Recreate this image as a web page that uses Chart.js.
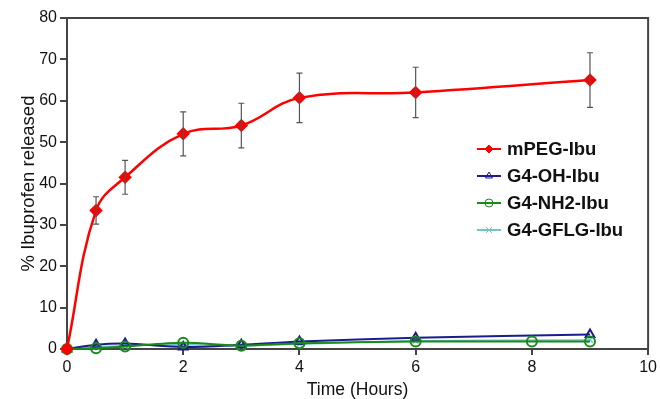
<!DOCTYPE html>
<html>
<head>
<meta charset="utf-8">
<script src="https://cdn.jsdelivr.net/npm/chart.js@4"></script>
<style>
body { margin: 0; background: #fff; }
#wrap { width: 660px; height: 399px; }
</style>
</head>
<body>
<div id="wrap"><canvas id="c" width="660" height="399"></canvas></div>
<script>
// datos
var timeMpeg = [0, 0.5, 1, 2, 3, 4, 6, 9];
var mpeg = [0, 33.5, 41.5, 52, 54, 60.7, 62, 65];
var mpegErr = [0, 3.3, 4.1, 5.3, 5.4, 6, 6.1, 6.6];

var timeOh = [0, 0.5, 1, 2, 3, 4, 6, 9];
var g4oh = [0, 1.0, 1.3, 0.5, 1.0, 1.8, 2.7, 3.5];

var timeNh2 = [0, 0.5, 1, 2, 3, 4, 6, 8, 9];
var g4nh2 = [0, 0.2, 0.6, 1.5, 0.8, 1.4, 1.8, 1.8, 1.8];

var timeGflg = [0, 0.5, 1, 2, 3, 4, 6, 9];
var g4gflg = [0, 0.5, 0.8, 1.0, 0.8, 1.2, 2.0, 2.2];

var xTicks = [0, 2, 4, 6, 8, 10];
var yTicks = [0, 10, 20, 30, 40, 50, 60, 70, 80];

var FONT = '"Liberation Sans", Arial, sans-serif';

function pts(xs, ys) {
    return xs.map(function(x, i) { return { x: x, y: ys[i] }; });
}

// barras de error
var errorBars = {
    id: 'errorBars',
    afterDatasetsDraw: function(chart) {
        var ctx = chart.ctx;
        var xs = chart.scales.x, ys = chart.scales.y;
        ctx.save();
        ctx.strokeStyle = '#555';
        ctx.lineWidth = 1.2;
        timeMpeg.forEach(function(t, i) {
            if (!mpegErr[i]) return;
            var px = xs.getPixelForValue(t);
            var top = ys.getPixelForValue(mpeg[i] + mpegErr[i]);
            var bot = ys.getPixelForValue(mpeg[i] - mpegErr[i]);
            ctx.beginPath();
            ctx.moveTo(px, top); ctx.lineTo(px, bot);
            ctx.moveTo(px - 3, top); ctx.lineTo(px + 3, top);
            ctx.moveTo(px - 3, bot); ctx.lineTo(px + 3, bot);
            ctx.stroke();
        });
        ctx.restore();
    }
};

// marco y leyenda dentro del area
var frameLegend = {
    id: 'frameLegend',
    afterDraw: function(chart) {
        var ctx = chart.ctx, a = chart.chartArea;
        ctx.save();
        ctx.strokeStyle = '#444';
        ctx.lineWidth = 2;
        ctx.beginPath();
        ctx.moveTo(a.left, a.top); ctx.lineTo(a.right, a.top); ctx.lineTo(a.right, a.bottom);
        ctx.stroke();

        var x0 = 477, y0 = 149, gap = 27;
        ctx.font = 'bold 18.5px ' + FONT;
        ctx.textBaseline = 'middle';
        chart.data.datasets.forEach(function(ds, i) {
            var y = y0 + i * gap;
            ctx.strokeStyle = ds.borderColor;
            ctx.lineWidth = 2;
            ctx.beginPath();
            ctx.moveTo(x0, y); ctx.lineTo(x0 + 24, y);
            ctx.stroke();
            ctx.fillStyle = ds.pointBackgroundColor;
            ctx.lineWidth = 1;
            Chart.helpers.drawPoint(ctx, { pointStyle: ds.pointStyle, radius: 4, borderWidth: 1 }, x0 + 12, y);
            ctx.fillStyle = '#111';
            ctx.fillText(ds.label, x0 + 30, y + 1);
        });
        ctx.restore();
    }
};

var ctx = document.getElementById('c').getContext('2d');
new Chart(ctx, {
    type: 'line',
    data: {
        datasets: [{
            label: 'mPEG-Ibu',
            data: pts(timeMpeg, mpeg),
            borderColor: '#ff0000',
            backgroundColor: '#ff0000',
            pointBackgroundColor: '#ff0000',
            pointStyle: 'rectRot',
            pointRadius: 5,
            borderWidth: 2.5,
            tension: 0.4,
            order: 0
        }, {
            label: 'G4-OH-Ibu',
            data: pts(timeOh, g4oh),
            borderColor: '#1c1c8e',
            backgroundColor: 'rgba(0,0,0,0)',
            pointBackgroundColor: 'rgba(0,0,0,0)',
            pointStyle: 'triangle',
            pointRadius: 5,
            borderWidth: 2,
            tension: 0.3,
            order: 2
        }, {
            label: 'G4-NH2-Ibu',
            data: pts(timeNh2, g4nh2),
            borderColor: '#1a8a1a',
            backgroundColor: 'rgba(0,0,0,0)',
            pointBackgroundColor: 'rgba(0,0,0,0)',
            pointStyle: 'circle',
            pointRadius: 5,
            borderWidth: 2,
            tension: 0.3,
            order: 1
        }, {
            label: 'G4-GFLG-Ibu',
            data: pts(timeGflg, g4gflg),
            borderColor: '#6cc6c6',
            backgroundColor: 'rgba(0,0,0,0)',
            pointBackgroundColor: 'rgba(0,0,0,0)',
            pointStyle: 'crossRot',
            pointRadius: 4,
            borderWidth: 1.5,
            tension: 0.3,
            order: 3
        }]
    },
    options: {
        responsive: false,
        animation: false,
        clip: false,
        layout: { autoPadding: false, padding: { left: 14, right: 5, top: 18, bottom: 0 } },
        plugins: {
            legend: { display: false },
            tooltip: { enabled: false }
        },
        scales: {
            x: {
                type: 'linear',
                min: 0, max: 10,
                afterBuildTicks: function(s) { s.ticks = xTicks.map(function(v) { return { value: v }; }); },
                afterFit: function(s) { s.height = 50; },
                grid: { drawOnChartArea: false, drawTicks: true, tickLength: 6, color: '#444', lineWidth: 2 },
                border: { display: true, color: '#444', width: 2 },
                ticks: { color: '#111', padding: 3, font: { size: 16, family: FONT } },
                title: { display: true, text: 'Time (Hours)', color: '#111', padding: { top: 0, bottom: -2 }, font: { size: 17.5, family: FONT } }
            },
            y: {
                min: 0, max: 80,
                afterBuildTicks: function(s) { s.ticks = yTicks.map(function(v) { return { value: v }; }); },
                afterFit: function(s) { s.width = 53; },
                grid: { drawOnChartArea: false, drawTicks: true, tickLength: 7, color: '#444', lineWidth: 2 },
                border: { display: true, color: '#444', width: 2 },
                ticks: { color: '#111', padding: 3, font: { size: 16, family: FONT } },
                title: { display: true, text: '% Ibuprofen released', color: '#111', padding: { bottom: 0 }, font: { size: 18.5, family: FONT } }
            }
        }
    },
    plugins: [errorBars, frameLegend]
});
</script>
</body>
</html>
